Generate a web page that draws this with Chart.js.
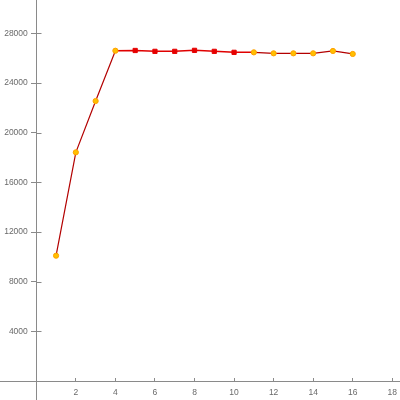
<!DOCTYPE html>
<html>
<head>
<meta charset="utf-8">
<script src="https://cdn.jsdelivr.net/npm/chart.js@4"></script>
<style>
  html, body { margin: 0; padding: 0; background: #fff; }
  #wrap { width: 400px; height: 400px; }
</style>
</head>
<body>
<div id="wrap"><canvas id="c" width="400" height="400"></canvas></div>
<script>
// ---- data ----
const xValues = [1, 2, 3, 4, 5, 6, 7, 8, 9, 10, 11, 12, 13, 14, 15, 16];
const yValues = [10100, 18420, 22550, 26600, 26620, 26550, 26550, 26630, 26550, 26470, 26470, 26390, 26390, 26390, 26580, 26340];
const markerKinds = ['dot', 'dot', 'dot', 'dot', 'sq', 'sq', 'sq', 'sq', 'sq', 'sq', 'dot', 'dot', 'dot', 'dot', 'dot', 'dot'];
const xTickValues = [2, 4, 6, 8, 10, 12, 14, 16, 18];
const yTickValues = [4000, 8000, 12000, 16000, 20000, 24000, 28000];

const points = xValues.map((x, i) => ({ x: x, y: yValues[i] }));

const AXIS_COLOR = '#8a8a8a';
const TEXT_COLOR = '#6a6a6a';
const FONT = { family: 'Liberation Sans', size: 8.5 };

const noPad = s => { s.paddingLeft = 0; s.paddingRight = 0; s.paddingTop = 0; s.paddingBottom = 0; };

// draw the right-hand half of the y-axis tick marks (ticks cross the axis)
const crossTicks = {
  id: 'crossTicks',
  afterDraw(chart) {
    const xs = chart.scales.x, ys = chart.scales.y;
    const ctx = chart.ctx;
    const ax = Math.round(xs.getPixelForValue(0)) + 0.5;
    ctx.save();
    ctx.strokeStyle = AXIS_COLOR;
    ctx.lineWidth = 1;
    ctx.beginPath();
    yTickValues.forEach(v => {
      const py = Math.round(ys.getPixelForValue(v)) + 0.5;
      ctx.moveTo(ax, py);
      ctx.lineTo(ax + 5, py);
    });
    ctx.stroke();
    ctx.restore();
  }
};

new Chart(document.getElementById('c'), {
  type: 'scatter',
  data: {
    datasets: [{
      data: points,
      showLine: true,
      borderWidth: 1.2,
      borderColor: '#b30000',
      segment: {
        borderColor: ctx => (markerKinds[ctx.p0DataIndex] === 'sq' || markerKinds[ctx.p1DataIndex] === 'sq') ? '#e00000' : '#b30000',
        borderWidth: ctx => (markerKinds[ctx.p0DataIndex] === 'sq' || markerKinds[ctx.p1DataIndex] === 'sq') ? 1.5 : 1.2
      },
      pointStyle: ctx => markerKinds[ctx.dataIndex] === 'sq' ? 'rect' : 'circle',
      pointRadius: ctx => markerKinds[ctx.dataIndex] === 'sq' ? 3 : 2.6,
      pointBackgroundColor: ctx => markerKinds[ctx.dataIndex] === 'sq' ? '#e60000' : '#ffc000',
      pointBorderColor: ctx => markerKinds[ctx.dataIndex] === 'sq' ? '#e60000' : '#ffa000',
      pointBorderWidth: 1
    }]
  },
  options: {
    responsive: false,
    animation: false,
    layout: { padding: 0, autoPadding: false },
    plugins: { legend: { display: false }, tooltip: { enabled: false } },
    scales: {
      x: {
        type: 'linear',
        position: { y: 0 },
        min: -1.835,
        max: 18.39,
        afterBuildTicks: s => { s.ticks = xTickValues.map(v => ({ value: v })); },
        afterFit: noPad,
        border: { color: AXIS_COLOR, width: 1 },
        grid: { drawOnChartArea: false, drawTicks: true, tickLength: -4, color: AXIS_COLOR },
        ticks: { padding: 10, color: TEXT_COLOR, font: FONT, maxRotation: 0, autoSkip: false,
                 callback: v => String(v) }
      },
      y: {
        type: 'linear',
        position: { x: 0 },
        min: -1522,
        max: 30684,
        afterBuildTicks: s => { s.ticks = yTickValues.map(v => ({ value: v })); },
        afterFit: noPad,
        border: { color: AXIS_COLOR, width: 1 },
        grid: { drawOnChartArea: false, drawTicks: true, tickLength: 5, color: AXIS_COLOR },
        ticks: { padding: 3, color: TEXT_COLOR, font: FONT, autoSkip: false,
                 callback: v => String(v) + '\u2002\u2002' }
      }
    }
  },
  plugins: [crossTicks]
});
</script>
</body>
</html>
